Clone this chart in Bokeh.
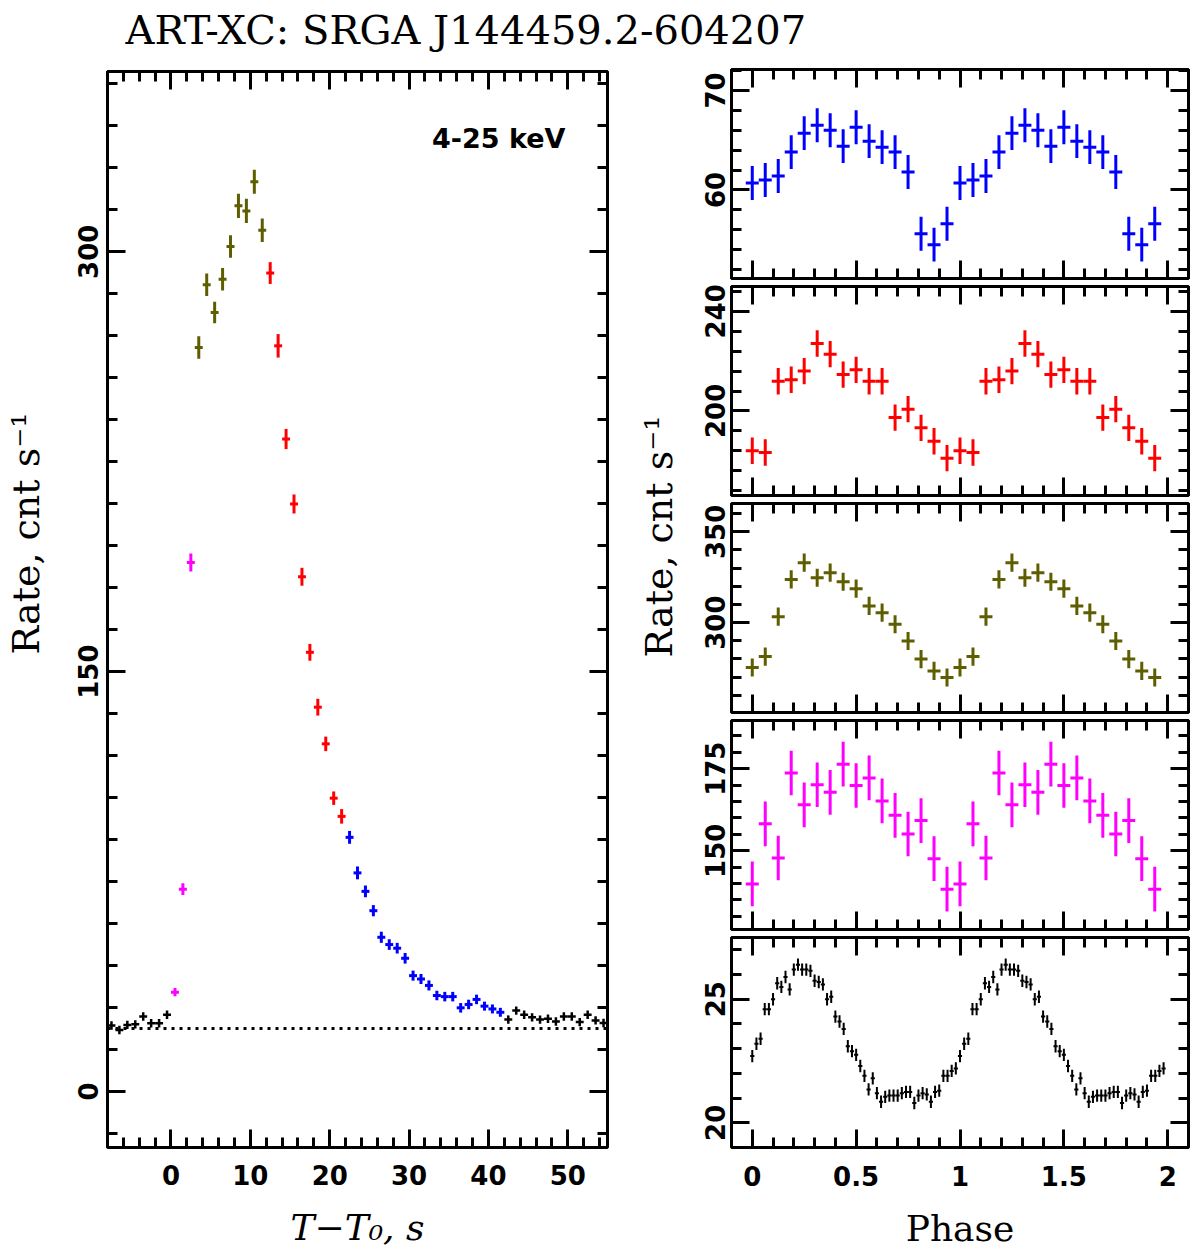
import numpy as np
from bokeh.embed import file_html
from bokeh.layouts import column, row
from bokeh.models import CustomJSTickFormatter, FixedTicker, Label, LinearAxis, Range1d, Span
from bokeh.plotting import figure
from bokeh.resources import INLINE

# Light curve, 4-25 keV, 1 s bins, split by colour group
pre_t = [-7.5, -6.5, -5.5, -4.5, -3.5, -2.5, -1.5, -0.5]
pre_rate = [23.6, 22.0, 23.8, 24.0, 26.8, 24.4, 24.4, 27.4]
pre_err = [1.5, 1.5, 1.5, 1.5, 1.5, 1.5, 1.5, 1.5]

rise_t = [0.5, 1.5, 2.5]
rise_rate = [35.5, 72.3, 189.0]
rise_err = [1.5, 2.1, 3.2]

peak_t = [3.5, 4.5, 5.5, 6.5, 7.5, 8.5, 9.5, 10.5, 11.5]
peak_rate = [265.8, 288.2, 278.3, 290.2, 301.9, 316.4, 314.6, 325.0, 307.7]
peak_err = [4.0, 4.0, 3.8, 4.0, 4.0, 4.3, 4.3, 4.3, 4.2]

decay_t = [12.5, 13.5, 14.5, 15.5, 16.5, 17.5, 18.5, 19.5, 20.5, 21.5]
decay_rate = [292.4, 266.4, 233.1, 209.9, 183.9, 156.9, 137.3, 124.2, 104.8, 98.3]
decay_err = [3.9, 4.2, 3.6, 3.4, 3.2, 3.0, 3.0, 2.6, 2.4, 2.6]

tail_t = [22.5, 23.5, 24.5, 25.5, 26.5, 27.5, 28.5, 29.5, 30.5, 31.5,
          32.5, 33.5, 34.5, 35.5, 36.5, 37.5, 38.5, 39.5, 40.5, 41.5]
tail_rate = [90.8, 78.1, 71.5, 64.6, 55.1, 52.5, 51.2, 47.6, 41.4, 40.2,
             37.9, 34.3, 33.9, 33.9, 29.9, 31.1, 32.9, 30.5, 29.5, 28.3]
tail_err = [2.3, 2.3, 2.1, 2.0, 2.0, 1.9, 1.9, 1.9, 1.8, 1.8,
            1.8, 1.7, 1.7, 1.7, 1.7, 1.7, 1.7, 1.6, 1.6, 1.6]

post_t = [42.5, 43.5, 44.5, 45.5, 46.5, 47.5, 48.5, 49.5, 50.5, 51.5, 52.5, 53.5, 54.5]
post_rate = [25.7, 28.9, 27.4, 26.5, 25.7, 26.0, 25.0, 26.8, 26.8, 24.8, 27.4, 25.4, 24.5]
post_err = [1.5, 1.5, 1.5, 1.5, 1.5, 1.5, 1.5, 1.5, 1.5, 1.5, 1.5, 1.5, 1.5]

background_level = 22.5

# Pulse profiles (16 phase bins) for each coloured interval, plus the persistent one (50 bins)
profile_tail = [60.7, 61.0, 61.4, 63.8, 65.7, 66.5, 66.0, 64.4,
                66.3, 64.9, 64.3, 63.8, 61.8, 55.6, 54.5, 56.6]
profile_decay = [184.0, 183.3, 211.9, 212.5, 216.0, 227.1, 222.8, 214.6,
                 216.5, 211.9, 211.9, 197.3, 200.7, 193.2, 187.8, 181.0]
profile_peak = [275.3, 281.3, 303.3, 323.8, 333.0, 324.7, 327.5, 322.5,
                318.7, 309.2, 305.5, 299.1, 289.9, 279.9, 273.4, 269.8]
profile_rise = [139.9, 158.2, 147.8, 173.7, 164.0, 170.1, 167.8, 176.4,
                169.9, 172.2, 165.2, 160.8, 155.1, 159.2, 147.6, 138.3]
profile_persistent = [22.7, 23.2, 23.4, 24.6, 24.6, 25.0, 25.65, 25.5, 25.9, 25.4,
                      26.2, 26.4, 26.2, 26.2, 26.15, 25.75, 25.7, 25.6, 25.0, 25.1,
                      24.3, 24.1, 23.8, 23.1, 22.9, 22.75, 22.3, 21.9, 21.35, 21.8,
                      21.2, 20.85, 21.05, 21.1, 21.1, 21.1, 21.2, 21.25, 21.25, 20.8,
                      21.1, 21.2, 21.15, 20.85, 21.25, 21.3, 21.9, 21.9, 22.1, 22.2]
err_tail, err_decay, err_peak, err_rise, err_persistent = 1.7, 5.3, 5.0, 6.8, 0.25

OLIVE = "#5e5e00"
SERIF = "DejaVu Serif"
SANS = "DejaVu Sans"
ROW_H = 1198


def crosses(p, x, y, ey, ex, color, width):
    x = np.asarray(x, dtype=float)
    y = np.asarray(y, dtype=float)
    ey = np.asarray(ey, dtype=float) * np.ones_like(y)
    p.segment(x0=x, y0=y - ey, x1=x, y1=y + ey, line_color=color, line_width=width)
    p.segment(x0=x - ex, y0=y, x1=x + ex, y1=y, line_color=color, line_width=width)


def boxed(p, xt, xm, yt, ym, show_x, y_standoff, x_standoff):
    top, right = LinearAxis(), LinearAxis()
    p.add_layout(top, "above")
    p.add_layout(right, "right")
    for ax in (p.below[0], top):
        ax.ticker = FixedTicker(ticks=xt, minor_ticks=xm)
    for ax in (p.left[0], right):
        ax.ticker = FixedTicker(ticks=yt, minor_ticks=ym)
    for ax in (p.below[0], top, p.left[0], right):
        ax.axis_line_color = None
        ax.major_tick_in, ax.major_tick_out = 18, 0
        ax.minor_tick_in, ax.minor_tick_out = 10, 0
        ax.major_tick_line_width = 3
        ax.minor_tick_line_width = 3
        ax.major_tick_line_color = "black"
        ax.minor_tick_line_color = "black"
        ax.major_label_text_font = SANS
        ax.major_label_text_font_style = "bold"
        ax.major_label_text_font_size = "26px"
        ax.major_label_text_color = "black"
        ax.axis_label_text_color = "black"
    hidden = [top, right] + ([] if show_x else [p.below[0]])
    for ax in hidden:
        ax.formatter = CustomJSTickFormatter(code="return ''")
        ax.major_label_text_font_size = "0px"
        ax.major_label_standoff = 0
    p.left[0].major_label_orientation = "vertical"
    p.left[0].major_label_standoff = y_standoff
    p.below[0].major_label_standoff = x_standoff
    p.grid.visible = False
    p.outline_line_color = "black"
    p.outline_line_width = 3
    p.outline_line_alpha = 1.0


def blank(width, height):
    b = figure(title=None, frame_width=width, frame_height=height,
               x_range=Range1d(0, width), y_range=Range1d(0, height),
               x_axis_location=None, y_axis_location=None, min_border=0,
               output_backend="svg", toolbar_location=None)
    b.grid.visible = False
    b.outline_line_color = None
    return b


# Title strip
head = blank(1198, 58)
head.add_layout(Label(x=125, y=29, text="ART-XC: SRGA J144459.2-604207", text_font=SERIF,
                      text_font_size="40px", text_baseline="middle", text_color="black"))

# Shared y-axis titles, each on its own strip
rate_text = "Rate, cnt s\u207b\u00b9"
left_title = blank(52, ROW_H)
left_title.add_layout(Label(x=25, y=736, text=rate_text, angle=np.pi / 2, text_font=SERIF,
                            text_font_size="38px", text_align="center", text_baseline="middle",
                            text_color="black"))
right_title = blank(60, ROW_H)
right_title.add_layout(Label(x=28, y=733, text=rate_text, angle=np.pi / 2, text_font=SERIF,
                             text_font_size="38px", text_align="center", text_baseline="middle",
                             text_color="black"))

# Left: light curve
lc = figure(title=None, frame_width=500, frame_height=1076, x_range=Range1d(-8, 55),
            y_range=Range1d(-20, 364.4), min_border_left=55, min_border_right=23,
            min_border_top=13, min_border_bottom=ROW_H - 13 - 1076,
            output_backend="svg", toolbar_location=None)
boxed(lc, [0, 10, 20, 30, 40, 50], list(range(-8, 56, 2)), [0, 150, 300], list(range(-15, 365, 15)),
      True, 9, 17)
lc.below[0].axis_label = "T\u2212T\u2080, s"
lc.below[0].axis_label_text_font = SERIF
lc.below[0].axis_label_text_font_style = "italic"
lc.below[0].axis_label_text_font_size = "36px"
lc.below[0].axis_label_standoff = 19

lc.add_layout(Span(location=background_level, dimension="width", line_color="black",
                   line_width=3, line_dash="3 5"))
crosses(lc, pre_t, pre_rate, pre_err, 0.5, "black", 2.5)
crosses(lc, rise_t, rise_rate, rise_err, 0.5, "#ff00ff", 3)
crosses(lc, peak_t, peak_rate, peak_err, 0.5, OLIVE, 3)
crosses(lc, decay_t, decay_rate, decay_err, 0.5, "#ff0000", 3)
crosses(lc, tail_t, tail_rate, tail_err, 0.5, "#0000ff", 3)
crosses(lc, post_t, post_rate, post_err, 0.5, "black", 2.5)

lc.add_layout(Label(x=49.7, y=340.6, text="4-25 keV", text_font=SANS, text_font_style="bold",
                    text_font_size="27px", text_align="right", text_baseline="middle",
                    text_color="black"))

# Right: pulse profiles, two cycles
phase16 = np.arange(16) / 16
phase50 = np.arange(50) / 50
panels = [
    (profile_tail, err_tail, "#0000ff", phase16, (51.1, 72.1), [50, 60, 70], list(range(52, 73, 2)), 3),
    (profile_decay, err_decay, "#ff0000", phase16, (166, 250), [160, 200, 240], list(range(168, 250, 8)), 3),
    (profile_peak, err_peak, OLIVE, phase16, (250.5, 365.6), [250, 300, 350], list(range(260, 366, 10)), 3),
    (profile_rise, err_rise, "#ff00ff", phase16, (126, 189.7), [125, 150, 175], list(range(130, 190, 5)), 3),
    (profile_persistent, err_persistent, "black", phase50, (19, 27.5), [20, 25], list(range(19, 28)), 2),
]
phase_ticks = [0, 0.5, 1, 1.5, 2]
phase_minor = [round(-0.1 + 0.1 * k, 1) for k in range(23)]

stack = []
used = 0
for i, (vals, err, color, ph, yr, yt, ym, lw) in enumerate(panels):
    last = i == len(panels) - 1
    top_b = 11 if i == 0 else 4
    fh = 210 if last else 209
    bot_b = ROW_H - used - top_b - fh if last else 4
    used += top_b + fh + bot_b
    p = figure(title=None, frame_width=457, frame_height=fh,
               x_range=Range1d(-0.1, 2.1), y_range=Range1d(*yr),
               min_border_left=41, min_border_right=10,
               min_border_top=top_b, min_border_bottom=bot_b,
               output_backend="svg", toolbar_location=None)
    boxed(p, phase_ticks, phase_minor, yt, ym, last, 6, 18)
    half = 0.5 / len(ph)
    crosses(p, np.concatenate([ph, ph + 1]), vals + vals, err, half, color, lw)
    if last:
        p.below[0].axis_label = "Phase"
        p.below[0].axis_label_text_font = SERIF
        p.below[0].axis_label_text_font_style = "normal"
        p.below[0].axis_label_text_font_size = "36px"
        p.below[0].axis_label_standoff = 19
    stack.append(p)

layout = column(head, row(left_title, lc, right_title, column(*stack)))

open("out.html", "w").write(file_html(layout, INLINE))
